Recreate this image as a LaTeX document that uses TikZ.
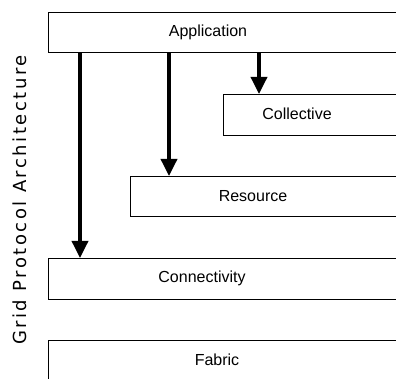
\documentclass[tikz,border=0pt]{standalone}
\usepackage{fontspec}
\setmainfont{Liberation Sans}
\newfontfamily\sidefont[LetterSpace=14]{DejaVu Sans}
\usetikzlibrary{arrows.meta,calc}
\begin{document}
\begin{tikzpicture}[x=1pt,y=-1pt,
  layer/.style={draw=black,line width=1pt,fill=white,rectangle,anchor=north west,inner sep=0pt},
  lbl/.style={font=\fontsize{16}{18}\selectfont,inner sep=0pt},
  arr/.style={line width=3.5pt,-{Triangle[width=16pt,length=17pt]}}]
\useasboundingbox (0,0) rectangle (396,379);
\clip (0,0) rectangle (396,379);
\node[layer,minimum width=360pt,minimum height=40pt] (app) at (48,12) {};
\node[layer,minimum width=180pt,minimum height=41pt] (coll) at (223,94) {};
\node[layer,minimum width=275pt,minimum height=40pt] (res) at (130,176) {};
\node[layer,minimum width=360pt,minimum height=41pt] (conn) at (48,258) {};
\node[layer,minimum width=360pt,minimum height=50pt] (fab) at (48,340) {};
\node[lbl] (tapp) at (208,32) {Application};
\node[lbl] (tcoll) at (297,114) {Collective};
\node[lbl] (tres) at (253,196) {Resource};
\node[lbl] (tconn) at (202,278) {Connectivity};
\node[lbl] (tfab) at (217,360) {Fabric};
\node[rotate=90,font=\sidefont\fontsize{18}{20}\selectfont] (side) at (20,200) {Grid Protocol Architecture};
\draw[arr] ($(app.south west)+(32,0)$) -- ($(conn.north west)+(32,0)$);
\draw[arr] ($(app.south west)+(121,0)$) -- ($(res.north west)+(39,0)$);
\draw[arr] ($(app.south west)+(211,0)$) -- ($(coll.north west)+(36,0)$);
\end{tikzpicture}
\end{document}
